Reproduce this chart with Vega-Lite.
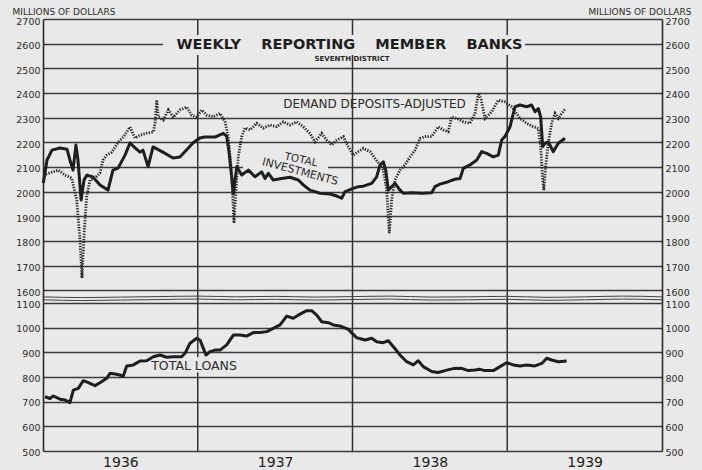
{
  "$schema": "https://vega.github.io/schema/vega-lite/v6.json",
  "autosize": {"type": "pad"},
  "padding": {"left": 12, "top": 7, "right": 11, "bottom": 1},
  "background": "#e9e9e9",
  "bounds": "flush",
  "spacing": 0,
  "config": {
    "view": {"stroke": null},
    "font": "DejaVu Sans",
    "axis": {
      "labelFont": "DejaVu Sans", "labelFontSize": 9.5, "labelColor": "#2b2b2b",
      "domainColor": "#2b2b2b", "domainWidth": 1.6,
      "gridColor": "#3c3c3c", "gridWidth": 1.4, "gridOpacity": 1,
      "ticks": false, "labelPadding": 3,
      "titleFont": "DejaVu Sans", "titleFontSize": 9, "titleFontWeight": "normal", "titleColor": "#2b2b2b"
    }
  },
  "datasets": {
    "years": [{"year": 1937}, {"year": 1938}, {"year": 1939}],
    "dd": [
      {"t":1936.002,"v":2067},{"t":1936.099,"v":2087},{"t":1936.142,"v":2067},{"t":1936.185,"v":2055},{"t":1936.218,"v":1966},{"t":1936.239,"v":1803},{"t":1936.252,"v":1649},{"t":1936.267,"v":1844},{"t":1936.282,"v":1978},{"t":1936.304,"v":2047},{"t":1936.336,"v":2055},{"t":1936.368,"v":2075},{"t":1936.388,"v":2128},{"t":1936.412,"v":2148},{"t":1936.444,"v":2160},{"t":1936.487,"v":2201},{"t":1936.519,"v":2221},{"t":1936.562,"v":2262},{"t":1936.595,"v":2217},{"t":1936.627,"v":2229},{"t":1936.670,"v":2237},{"t":1936.713,"v":2242},{"t":1936.724,"v":2278},{"t":1936.735,"v":2371},{"t":1936.745,"v":2302},{"t":1936.777,"v":2290},{"t":1936.810,"v":2331},{"t":1936.842,"v":2302},{"t":1936.885,"v":2331},{"t":1936.929,"v":2343},{"t":1936.961,"v":2310},{"t":1936.993,"v":2302},{"t":1937.026,"v":2331},{"t":1937.058,"v":2310},{"t":1937.100,"v":2303},{"t":1937.144,"v":2317},{"t":1937.176,"v":2283},{"t":1937.197,"v":2223},{"t":1937.219,"v":2075},{"t":1937.234,"v":1872},{"t":1937.247,"v":2006},{"t":1937.262,"v":2141},{"t":1937.284,"v":2223},{"t":1937.305,"v":2258},{"t":1937.338,"v":2250},{"t":1937.381,"v":2277},{"t":1937.424,"v":2257},{"t":1937.467,"v":2270},{"t":1937.510,"v":2263},{"t":1937.553,"v":2283},{"t":1937.596,"v":2270},{"t":1937.639,"v":2283},{"t":1937.682,"v":2263},{"t":1937.725,"v":2236},{"t":1937.758,"v":2202},{"t":1937.801,"v":2236},{"t":1937.833,"v":2209},{"t":1937.866,"v":2189},{"t":1937.898,"v":2209},{"t":1937.941,"v":2223},{"t":1937.973,"v":2182},{"t":1938.005,"v":2148},{"t":1938.037,"v":2162},{"t":1938.070,"v":2175},{"t":1938.113,"v":2162},{"t":1938.145,"v":2135},{"t":1938.178,"v":2108},{"t":1938.199,"v":2087},{"t":1938.221,"v":2006},{"t":1938.238,"v":1831},{"t":1938.253,"v":1966},{"t":1938.275,"v":2047},{"t":1938.307,"v":2087},{"t":1938.339,"v":2108},{"t":1938.372,"v":2141},{"t":1938.404,"v":2168},{"t":1938.436,"v":2216},{"t":1938.468,"v":2223},{"t":1938.512,"v":2223},{"t":1938.554,"v":2263},{"t":1938.587,"v":2250},{"t":1938.619,"v":2243},{"t":1938.641,"v":2303},{"t":1938.673,"v":2297},{"t":1938.716,"v":2283},{"t":1938.759,"v":2277},{"t":1938.792,"v":2317},{"t":1938.813,"v":2399},{"t":1938.830,"v":2378},{"t":1938.856,"v":2297},{"t":1938.900,"v":2324},{"t":1938.942,"v":2371},{"t":1938.985,"v":2364},{"t":1939.029,"v":2344},{"t":1939.052,"v":2324},{"t":1939.082,"v":2297},{"t":1939.126,"v":2277},{"t":1939.168,"v":2263},{"t":1939.201,"v":2256},{"t":1939.216,"v":2182},{"t":1939.229,"v":2047},{"t":1939.236,"v":2006},{"t":1939.248,"v":2101},{"t":1939.265,"v":2196},{"t":1939.287,"v":2277},{"t":1939.309,"v":2317},{"t":1939.330,"v":2297},{"t":1939.352,"v":2317},{"t":1939.373,"v":2334}
    ],
    "inv": [
      {"t":1936.002,"v":2035},{"t":1936.026,"v":2128},{"t":1936.058,"v":2168},{"t":1936.110,"v":2177},{"t":1936.155,"v":2172},{"t":1936.174,"v":2128},{"t":1936.194,"v":2087},{"t":1936.213,"v":2189},{"t":1936.226,"v":2128},{"t":1936.246,"v":1966},{"t":1936.265,"v":2047},{"t":1936.284,"v":2067},{"t":1936.323,"v":2059},{"t":1936.368,"v":2027},{"t":1936.420,"v":2006},{"t":1936.452,"v":2087},{"t":1936.485,"v":2095},{"t":1936.530,"v":2148},{"t":1936.562,"v":2197},{"t":1936.595,"v":2177},{"t":1936.627,"v":2160},{"t":1936.646,"v":2168},{"t":1936.679,"v":2101},{"t":1936.711,"v":2181},{"t":1936.775,"v":2160},{"t":1936.840,"v":2136},{"t":1936.885,"v":2140},{"t":1936.969,"v":2197},{"t":1937.013,"v":2217},{"t":1937.047,"v":2221},{"t":1937.111,"v":2221},{"t":1937.165,"v":2236},{"t":1937.187,"v":2225},{"t":1937.202,"v":2160},{"t":1937.219,"v":2060},{"t":1937.230,"v":1990},{"t":1937.252,"v":2101},{"t":1937.284,"v":2067},{"t":1937.327,"v":2087},{"t":1937.370,"v":2060},{"t":1937.413,"v":2080},{"t":1937.435,"v":2053},{"t":1937.456,"v":2074},{"t":1937.488,"v":2047},{"t":1937.542,"v":2053},{"t":1937.596,"v":2058},{"t":1937.650,"v":2047},{"t":1937.682,"v":2027},{"t":1937.725,"v":2006},{"t":1937.790,"v":1993},{"t":1937.855,"v":1990},{"t":1937.898,"v":1982},{"t":1937.930,"v":1973},{"t":1937.952,"v":2000},{"t":1938.005,"v":2013},{"t":1938.037,"v":2020},{"t":1938.070,"v":2022},{"t":1938.124,"v":2033},{"t":1938.156,"v":2060},{"t":1938.178,"v":2108},{"t":1938.199,"v":2121},{"t":1938.215,"v":2087},{"t":1938.231,"v":2006},{"t":1938.253,"v":2020},{"t":1938.275,"v":2033},{"t":1938.307,"v":2006},{"t":1938.328,"v":1993},{"t":1938.383,"v":1995},{"t":1938.447,"v":1993},{"t":1938.512,"v":1995},{"t":1938.533,"v":2020},{"t":1938.565,"v":2030},{"t":1938.619,"v":2040},{"t":1938.662,"v":2050},{"t":1938.695,"v":2053},{"t":1938.716,"v":2094},{"t":1938.759,"v":2108},{"t":1938.803,"v":2128},{"t":1938.835,"v":2162},{"t":1938.867,"v":2155},{"t":1938.910,"v":2141},{"t":1938.942,"v":2148},{"t":1938.964,"v":2209},{"t":1938.985,"v":2223},{"t":1939.018,"v":2263},{"t":1939.050,"v":2344},{"t":1939.082,"v":2351},{"t":1939.126,"v":2344},{"t":1939.158,"v":2351},{"t":1939.179,"v":2324},{"t":1939.201,"v":2337},{"t":1939.216,"v":2303},{"t":1939.229,"v":2182},{"t":1939.244,"v":2196},{"t":1939.265,"v":2202},{"t":1939.297,"v":2162},{"t":1939.330,"v":2196},{"t":1939.373,"v":2216}
    ],
    "loans": [
      {"t":1936.013,"v":720},{"t":1936.045,"v":713},{"t":1936.067,"v":723},{"t":1936.110,"v":710},{"t":1936.142,"v":707},{"t":1936.174,"v":696},{"t":1936.196,"v":747},{"t":1936.228,"v":754},{"t":1936.260,"v":785},{"t":1936.293,"v":777},{"t":1936.336,"v":765},{"t":1936.368,"v":777},{"t":1936.412,"v":795},{"t":1936.433,"v":815},{"t":1936.476,"v":811},{"t":1936.519,"v":804},{"t":1936.541,"v":845},{"t":1936.584,"v":849},{"t":1936.627,"v":865},{"t":1936.670,"v":866},{"t":1936.713,"v":882},{"t":1936.756,"v":889},{"t":1936.799,"v":880},{"t":1936.842,"v":882},{"t":1936.896,"v":882},{"t":1936.918,"v":896},{"t":1936.950,"v":937},{"t":1936.993,"v":957},{"t":1937.015,"v":950},{"t":1937.036,"v":916},{"t":1937.053,"v":889},{"t":1937.079,"v":903},{"t":1937.111,"v":909},{"t":1937.144,"v":909},{"t":1937.187,"v":930},{"t":1937.230,"v":970},{"t":1937.273,"v":970},{"t":1937.316,"v":966},{"t":1937.359,"v":980},{"t":1937.402,"v":980},{"t":1937.446,"v":984},{"t":1937.488,"v":997},{"t":1937.532,"v":1011},{"t":1937.575,"v":1047},{"t":1937.617,"v":1038},{"t":1937.661,"v":1055},{"t":1937.704,"v":1069},{"t":1937.736,"v":1069},{"t":1937.769,"v":1051},{"t":1937.801,"v":1024},{"t":1937.844,"v":1020},{"t":1937.876,"v":1011},{"t":1937.919,"v":1007},{"t":1937.973,"v":993},{"t":1938.027,"v":959},{"t":1938.081,"v":950},{"t":1938.124,"v":957},{"t":1938.156,"v":943},{"t":1938.199,"v":939},{"t":1938.231,"v":947},{"t":1938.264,"v":923},{"t":1938.307,"v":889},{"t":1938.350,"v":862},{"t":1938.393,"v":849},{"t":1938.425,"v":866},{"t":1938.457,"v":842},{"t":1938.512,"v":822},{"t":1938.554,"v":818},{"t":1938.609,"v":828},{"t":1938.651,"v":834},{"t":1938.706,"v":835},{"t":1938.748,"v":826},{"t":1938.792,"v":828},{"t":1938.824,"v":831},{"t":1938.856,"v":826},{"t":1938.910,"v":826},{"t":1938.953,"v":842},{"t":1938.996,"v":858},{"t":1939.039,"v":849},{"t":1939.082,"v":845},{"t":1939.126,"v":849},{"t":1939.179,"v":845},{"t":1939.223,"v":855},{"t":1939.255,"v":876},{"t":1939.287,"v":869},{"t":1939.330,"v":862},{"t":1939.384,"v":865}
    ],
    "brk": [
      {"line":"a","t":1936.0,"v":1573},{"line":"a","t":1936.25,"v":1570},{"line":"a","t":1936.5,"v":1572},{"line":"a","t":1936.75,"v":1574},{"line":"a","t":1937.0,"v":1576},{"line":"a","t":1937.25,"v":1573},{"line":"a","t":1937.5,"v":1575},{"line":"a","t":1937.75,"v":1572},{"line":"a","t":1938.0,"v":1574},{"line":"a","t":1938.25,"v":1576},{"line":"a","t":1938.5,"v":1572},{"line":"a","t":1938.75,"v":1573},{"line":"a","t":1939.0,"v":1575},{"line":"a","t":1939.25,"v":1571},{"line":"a","t":1939.5,"v":1573},{"line":"a","t":1939.75,"v":1576},{"line":"a","t":1940.0,"v":1573},
      {"line":"b","t":1936.0,"v":1561},{"line":"b","t":1936.25,"v":1558},{"line":"b","t":1936.5,"v":1560},{"line":"b","t":1936.75,"v":1562},{"line":"b","t":1937.0,"v":1564},{"line":"b","t":1937.25,"v":1561},{"line":"b","t":1937.5,"v":1563},{"line":"b","t":1937.75,"v":1560},{"line":"b","t":1938.0,"v":1562},{"line":"b","t":1938.25,"v":1564},{"line":"b","t":1938.5,"v":1560},{"line":"b","t":1938.75,"v":1561},{"line":"b","t":1939.0,"v":1563},{"line":"b","t":1939.25,"v":1559},{"line":"b","t":1939.5,"v":1561},{"line":"b","t":1939.75,"v":1564},{"line":"b","t":1940.0,"v":1561}
    ]
  },
  "vconcat": [
    {
      "width": 619,
      "height": 284,
      "resolve": {"scale": {"y": "shared", "x": "shared"}, "axis": {"y": "independent", "x": "independent"}},
      "layer": [
        {
          "data": {"name": "years"},
          "mark": {"type": "rule", "color": "#333333", "strokeWidth": 1.5},
          "encoding": {
            "x": {"field": "year", "type": "quantitative", "scale": {"domain": [1936, 1940], "nice": false, "zero": false}, "axis": null}
          }
        },
        {
          "data": {"values": [{}]},
          "mark": {"type": "rect", "color": "#e9e9e9"},
          "encoding": {
            "x": {"datum": 1936.775, "type": "quantitative", "scale": {"domain": [1936, 1940], "nice": false, "zero": false}, "axis": null},
            "x2": {"datum": 1939.115},
            "y": {"datum": 2635, "type": "quantitative", "scale": {"domain": [1548, 2700], "nice": false, "zero": false}, "axis": null},
            "y2": {"datum": 2554}
          }
        },
        {
          "data": {"values": [{}]},
          "mark": {"type": "rect", "color": "#e9e9e9"},
          "encoding": {
            "x": {"datum": 1937.292, "type": "quantitative", "scale": {"domain": [1936, 1940], "nice": false, "zero": false}, "axis": null},
            "x2": {"datum": 1937.842},
            "y": {"datum": 2118, "type": "quantitative", "scale": {"domain": [1548, 2700], "nice": false, "zero": false}, "axis": null},
            "y2": {"datum": 2080}
          }
        },
        {
          "data": {"name": "brk"},
          "mark": {"type": "line", "color": "#444444", "strokeWidth": 1, "interpolate": "monotone"},
          "encoding": {
            "x": {"field": "t", "type": "quantitative", "scale": {"domain": [1936, 1940], "nice": false, "zero": false}, "axis": null},
            "y": {"field": "v", "type": "quantitative", "scale": {"domain": [1548, 2700], "nice": false, "zero": false}, "axis": null},
            "detail": {"field": "line"}
          }
        },
        {
          "data": {"name": "inv"},
          "mark": {"type": "line", "color": "#1e1e1e", "strokeWidth": 3, "strokeJoin": "round"},
          "encoding": {
            "x": {"field": "t", "type": "quantitative", "scale": {"domain": [1936, 1940], "nice": false, "zero": false}, "axis": null},
            "y": {"field": "v", "type": "quantitative", "scale": {"domain": [1548, 2700], "nice": false, "zero": false},
              "axis": {"orient": "left", "values": [1600,1700,1800,1900,2000,2100,2200,2300,2400,2500,2600,2700], "format": "d", "grid": true, "labelOffset": 2,
                "title": "MILLIONS OF DOLLARS", "titleAngle": 0, "titleAlign": "left", "titleBaseline": "top", "titleX": -31, "titleY": -12}}
          }
        },
        {
          "data": {"name": "dd"},
          "mark": {"type": "line", "color": "#262626", "strokeWidth": 2.8, "strokeDash": [1.3, 1.4]},
          "encoding": {
            "x": {"field": "t", "type": "quantitative", "scale": {"domain": [1936, 1940], "nice": false, "zero": false}, "axis": null},
            "y": {"field": "v", "type": "quantitative", "scale": {"domain": [1548, 2700], "nice": false, "zero": false},
              "axis": {"orient": "right", "values": [1600,1700,1800,1900,2000,2100,2200,2300,2400,2500,2600,2700], "format": "d", "grid": false, "labelPadding": 3, "labelOffset": 2,
                "title": "MILLIONS OF DOLLARS", "titleAngle": 0, "titleAlign": "right", "titleBaseline": "top", "titleX": 29, "titleY": -12}}
          }
        },
        {
          "data": {"values": [{}]},
          "mark": {"type": "text", "text": "WEEKLY\u00a0\u00a0\u00a0\u00a0REPORTING\u00a0\u00a0\u00a0\u00a0MEMBER\u00a0\u00a0\u00a0\u00a0BANKS", "font": "DejaVu Sans", "fontWeight": "bold", "fontSize": 14.5, "color": "#1e1e1e", "align": "center", "baseline": "middle"},
          "encoding": {
            "x": {"datum": 1937.981, "type": "quantitative", "scale": {"domain": [1936, 1940], "nice": false, "zero": false}, "axis": null},
            "y": {"datum": 2595, "type": "quantitative", "scale": {"domain": [1548, 2700], "nice": false, "zero": false}, "axis": null}
          }
        },
        {
          "data": {"values": [{}]},
          "mark": {"type": "text", "text": "SEVENTH DISTRICT", "font": "DejaVu Sans", "fontWeight": "bold", "fontSize": 7, "color": "#2b2b2b", "align": "center", "baseline": "middle"},
          "encoding": {
            "x": {"datum": 1937.997, "type": "quantitative", "scale": {"domain": [1936, 1940], "nice": false, "zero": false}, "axis": null},
            "y": {"datum": 2538, "type": "quantitative", "scale": {"domain": [1548, 2700], "nice": false, "zero": false}, "axis": null}
          }
        },
        {
          "data": {"values": [{}]},
          "mark": {"type": "text", "text": "DEMAND DEPOSITS-ADJUSTED", "font": "DejaVu Sans", "fontSize": 12, "color": "#2b2b2b", "align": "center", "baseline": "middle"},
          "encoding": {
            "x": {"datum": 1938.142, "type": "quantitative", "scale": {"domain": [1936, 1940], "nice": false, "zero": false}, "axis": null},
            "y": {"datum": 2355, "type": "quantitative", "scale": {"domain": [1548, 2700], "nice": false, "zero": false}, "axis": null}
          }
        },
        {
          "data": {"values": [{}]},
          "mark": {"type": "text", "text": "TOTAL", "font": "DejaVu Sans", "fontSize": 10.5, "angle": 12, "color": "#2b2b2b", "align": "center", "baseline": "middle"},
          "encoding": {
            "x": {"datum": 1937.667, "type": "quantitative", "scale": {"domain": [1936, 1940], "nice": false, "zero": false}, "axis": null},
            "y": {"datum": 2128, "type": "quantitative", "scale": {"domain": [1548, 2700], "nice": false, "zero": false}, "axis": null}
          }
        },
        {
          "data": {"values": [{}]},
          "mark": {"type": "text", "text": "INVESTMENTS", "font": "DejaVu Sans", "fontSize": 11, "angle": 15, "color": "#2b2b2b", "align": "center", "baseline": "middle"},
          "encoding": {
            "x": {"datum": 1937.661, "type": "quantitative", "scale": {"domain": [1936, 1940], "nice": false, "zero": false}, "axis": null},
            "y": {"datum": 2079, "type": "quantitative", "scale": {"domain": [1548, 2700], "nice": false, "zero": false}, "axis": null}
          }
        }
      ]
    },
    {
      "width": 619,
      "height": 148,
      "resolve": {"scale": {"y": "shared", "x": "shared"}, "axis": {"y": "independent", "x": "independent"}},
      "layer": [
        {
          "data": {"name": "years"},
          "mark": {"type": "rule", "color": "#333333", "strokeWidth": 1.5},
          "encoding": {
            "x": {"field": "year", "type": "quantitative", "scale": {"domain": [1936, 1940], "nice": false, "zero": false}, "axis": null}
          }
        },
        {
          "data": {"values": [{}]},
          "mark": {"type": "rect", "color": "#e9e9e9"},
          "encoding": {
            "x": {"datum": 1936.69, "type": "quantitative", "scale": {"domain": [1936, 1940], "nice": false, "zero": false}, "axis": null},
            "x2": {"datum": 1937.26},
            "y": {"datum": 880, "type": "quantitative", "scale": {"domain": [500, 1100], "nice": false, "zero": false}, "axis": null},
            "y2": {"datum": 818}
          }
        },
        {
          "data": {"name": "loans"},
          "mark": {"type": "line", "color": "#1e1e1e", "strokeWidth": 3, "strokeJoin": "round"},
          "encoding": {
            "x": {"field": "t", "type": "quantitative", "scale": {"domain": [1936, 1940], "nice": false, "zero": false},
              "axis": {"values": [1936.5, 1937.5, 1938.5, 1939.5], "labelExpr": "floor(datum.value)", "grid": false, "ticks": false, "domain": false, "labelFontSize": 14, "labelPadding": 4, "labelColor": "#1e1e1e", "title": null}},
            "y": {"field": "v", "type": "quantitative", "scale": {"domain": [500, 1100], "nice": false, "zero": false},
              "axis": {"orient": "left", "values": [500,600,700,800,900,1000,1100], "format": "d", "grid": true, "labelOffset": 1, "title": null}}
          }
        },
        {
          "data": {"values": [{}]},
          "mark": {"type": "text", "text": "TOTAL LOANS", "font": "DejaVu Sans", "fontSize": 12.5, "color": "#2b2b2b", "align": "center", "baseline": "middle"},
          "encoding": {
            "x": {"datum": 1936.976, "type": "quantitative", "scale": {"domain": [1936, 1940], "nice": false, "zero": false}, "axis": null},
            "y": {"datum": 845, "type": "quantitative", "scale": {"domain": [500, 1100], "nice": false, "zero": false},
              "axis": {"orient": "right", "values": [500,600,700,800,900,1000,1100], "format": "d", "grid": false, "labelOffset": 1, "title": null}}
          }
        }
      ]
    }
  ]
}
